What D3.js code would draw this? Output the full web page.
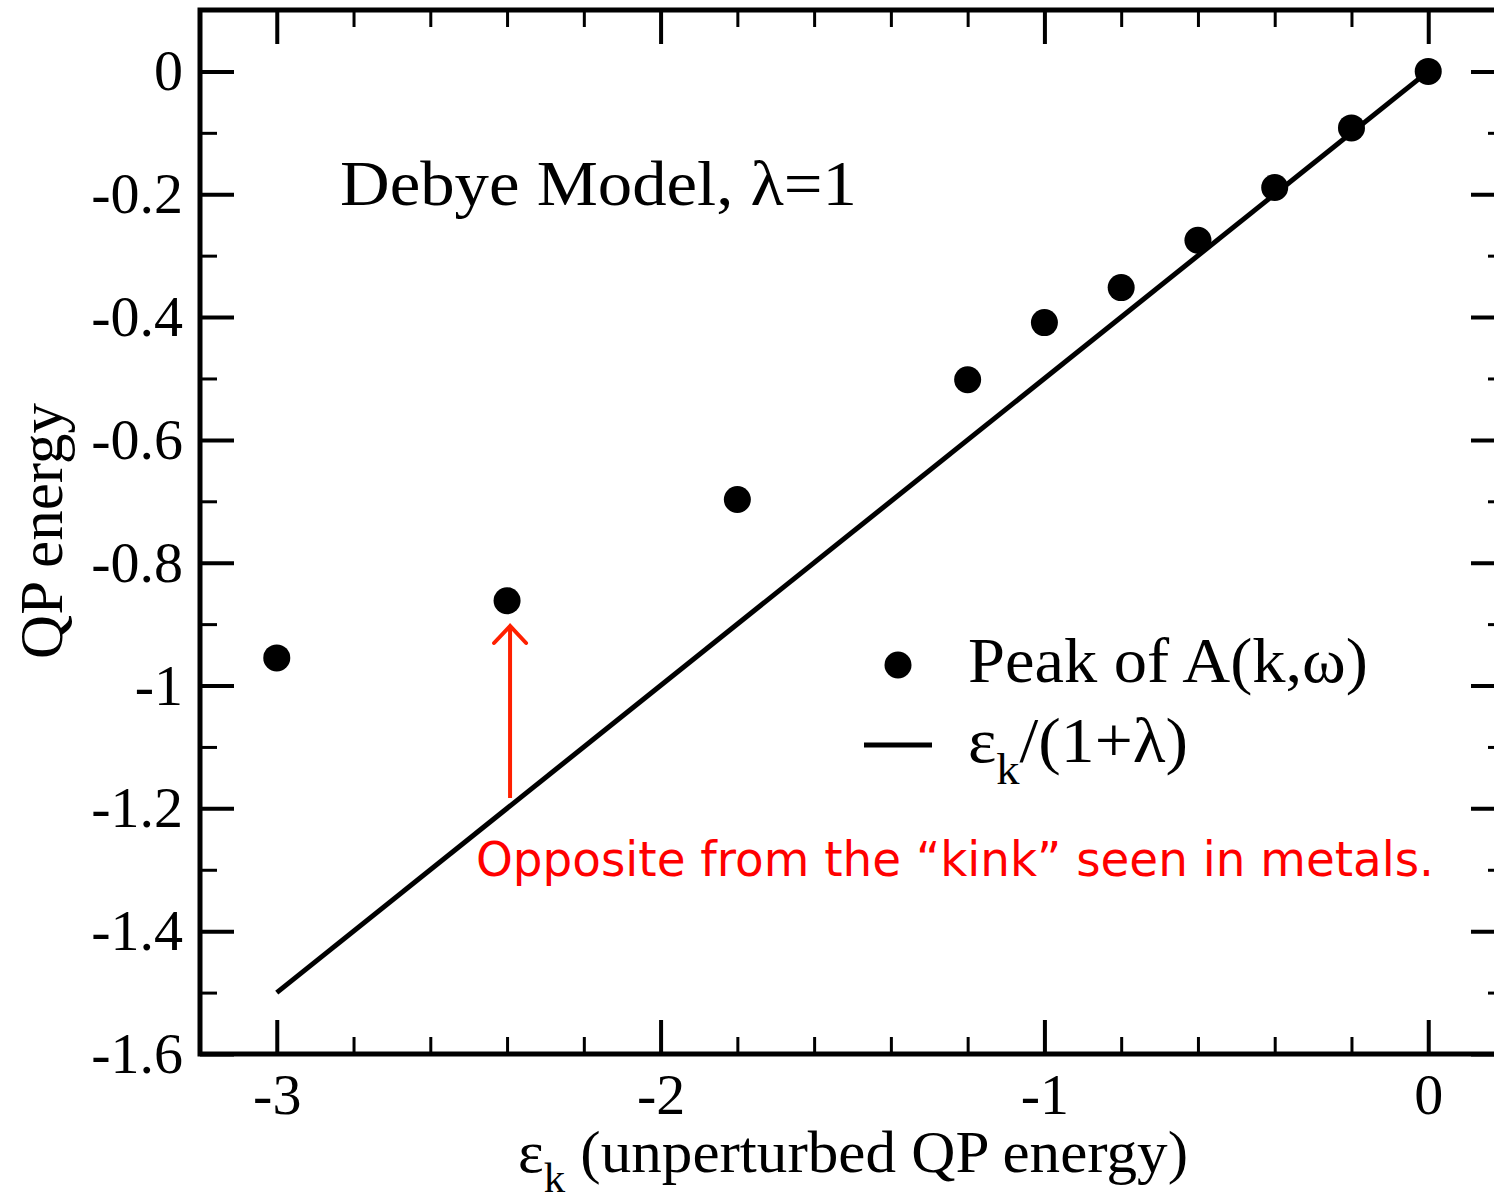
<!DOCTYPE html>
<html><head><meta charset="utf-8">
<script src="https://cdn.jsdelivr.net/npm/d3@7"></script>
<style>body{margin:0;background:#fff;} svg{display:block;}</style>
</head><body>
<svg id="c" width="1494" height="1199"></svg>
<script>
const peakX = [0, -0.2, -0.4, -0.6, -0.8, -1.0, -1.2, -1.8, -2.4, -3.0];
const peakY = [0, -0.092, -0.189, -0.275, -0.352, -0.409, -0.502, -0.697, -0.862, -0.955];
const lineX = [-3, 0];
const lineY = [-1.5, 0];
const xMajor = [-3, -2, -1, 0];
const yMajor = [0, -0.2, -0.4, -0.6, -0.8, -1, -1.2, -1.4, -1.6];
const xTickLabels = ["-3", "-2", "-1", "0"];
const yTickLabels = ["0", "-0.2", "-0.4", "-0.6", "-0.8", "-1", "-1.2", "-1.4", "-1.6"];

const svg = d3.select("#c");
const L = 200, R = 1505, T = 10, B = 1054;
const x = d3.scaleLinear().domain([-3.2, 0.2]).range([L, R]);
const y = d3.scaleLinear().domain([-1.6, 0.1]).range([B, T]);
const font = "'Liberation Serif', 'Times New Roman', serif";

const xMinor = d3.range(-32, 3, 2).map(d => d / 10).filter(d => !xMajor.some(m => Math.abs(m - d) < 1e-9));
const yMinor = d3.range(-16, 1, 1).map(d => d / 10).filter(d => !yMajor.some(m => Math.abs(m - d) < 1e-9));

const gB = svg.append("g").attr("transform", `translate(0,${B})`)
  .call(d3.axisBottom(x).tickValues(xMajor).tickSize(-34).tickPadding(19).tickFormat((d, i) => xTickLabels[i]));
const gBm = svg.append("g").attr("transform", `translate(0,${B})`)
  .call(d3.axisBottom(x).tickValues(xMinor).tickSize(-17).tickFormat(""));
const gT = svg.append("g").attr("transform", `translate(0,${T})`)
  .call(d3.axisTop(x).tickValues(xMajor).tickSize(-34).tickFormat(""));
const gTm = svg.append("g").attr("transform", `translate(0,${T})`)
  .call(d3.axisTop(x).tickValues(xMinor).tickSize(-17).tickFormat(""));
const gL = svg.append("g").attr("transform", `translate(${L},0)`)
  .call(d3.axisLeft(y).tickValues(yMajor).tickSize(-34).tickPadding(17).tickFormat((d, i) => yTickLabels[i]));
const gLm = svg.append("g").attr("transform", `translate(${L},0)`)
  .call(d3.axisLeft(y).tickValues(yMinor).tickSize(-17).tickFormat(""));
const gR = svg.append("g").attr("transform", `translate(${R},0)`)
  .call(d3.axisRight(y).tickValues(yMajor).tickSize(-34).tickFormat(""));
const gRm = svg.append("g").attr("transform", `translate(${R},0)`)
  .call(d3.axisRight(y).tickValues(yMinor).tickSize(-17).tickFormat(""));

[gB, gBm, gT, gTm, gL, gLm, gR, gRm].forEach(g => {
  g.select(".domain").remove();
  g.selectAll(".tick line").attr("stroke", "#000");
  g.selectAll(".tick text").attr("font-family", font).attr("font-size", 58).attr("fill", "#000");
});
[gB, gT, gL, gR].forEach(g => g.selectAll(".tick line").attr("stroke-width", 4));
[gBm, gTm, gLm, gRm].forEach(g => g.selectAll(".tick line").attr("stroke-width", 3));
gB.selectAll(".tick text").attr("dy", "0.71em");

svg.append("rect").attr("x", L).attr("y", T).attr("width", R - L).attr("height", B - T)
  .attr("fill", "none").attr("stroke", "#000").attr("stroke-width", 5);

const lineData = lineX.map((d, i) => [d, lineY[i]]);
svg.append("path").datum(lineData)
  .attr("d", d3.line().x(d => x(d[0])).y(d => y(d[1])))
  .attr("stroke", "#000").attr("stroke-width", 5).attr("fill", "none");

svg.append("g").selectAll("circle").data(peakX.map((d, i) => [d, peakY[i]])).join("circle")
  .attr("cx", d => x(d[0])).attr("cy", d => y(d[1])).attr("r", 13.5).attr("fill", "#000");

svg.append("text").attr("x", 340).attr("y", 205).attr("font-family", font).attr("font-size", 64)
  .attr("textLength", 517).attr("lengthAdjust", "spacingAndGlyphs")
  .text("Debye Model, λ=1");

svg.append("circle").attr("cx", 898).attr("cy", 665).attr("r", 13.5).attr("fill", "#000");
svg.append("text").attr("x", 968).attr("y", 682).attr("font-family", font).attr("font-size", 64)
  .attr("textLength", 400).attr("lengthAdjust", "spacingAndGlyphs")
  .text("Peak of A(k,ω)");
svg.append("line").attr("x1", 864).attr("x2", 932).attr("y1", 745).attr("y2", 745)
  .attr("stroke", "#000").attr("stroke-width", 5);
const lt = svg.append("text").attr("x", 968).attr("y", 762).attr("font-family", font).attr("font-size", 64)
  .attr("textLength", 220).attr("lengthAdjust", "spacingAndGlyphs");
lt.append("tspan").text("ε");
lt.append("tspan").attr("font-size", 44).attr("dy", 22).text("k");
lt.append("tspan").attr("dy", -22).text("/(1+λ)");

const xt = svg.append("text").attr("x", 518).attr("y", 1172).attr("font-family", font).attr("font-size", 60)
  .attr("textLength", 670).attr("lengthAdjust", "spacingAndGlyphs");
xt.append("tspan").text("ε");
xt.append("tspan").attr("font-size", 42).attr("dy", 20).text("k");
xt.append("tspan").attr("dy", -20).text(" (unperturbed QP energy)");

svg.append("text").attr("transform", "translate(62,531) rotate(-90)").attr("text-anchor", "middle")
  .attr("font-family", font).attr("font-size", 61).text("QP energy");

const ax = -2.4;
svg.append("line").attr("x1", x(ax) + 3).attr("x2", x(ax) + 3).attr("y1", 798).attr("y2", 626)
  .attr("stroke", "#ff2000").attr("stroke-width", 4);
svg.append("path").attr("d", `M${x(ax) + 3 - 16},${643} L${x(ax) + 3},${626} L${x(ax) + 3 + 16},${643}`)
  .attr("stroke", "#ff2000").attr("stroke-width", 4).attr("fill", "none").attr("stroke-linecap", "round");
svg.append("text").attr("x", 476).attr("y", 876)
  .attr("font-family", "'Comic Sans MS', 'DejaVu Sans', sans-serif").attr("font-size", 48)
  .attr("fill", "#ff0000").attr("textLength", 958).attr("lengthAdjust", "spacingAndGlyphs")
  .text("Opposite from the “kink” seen in metals.");
</script>
</body></html>
